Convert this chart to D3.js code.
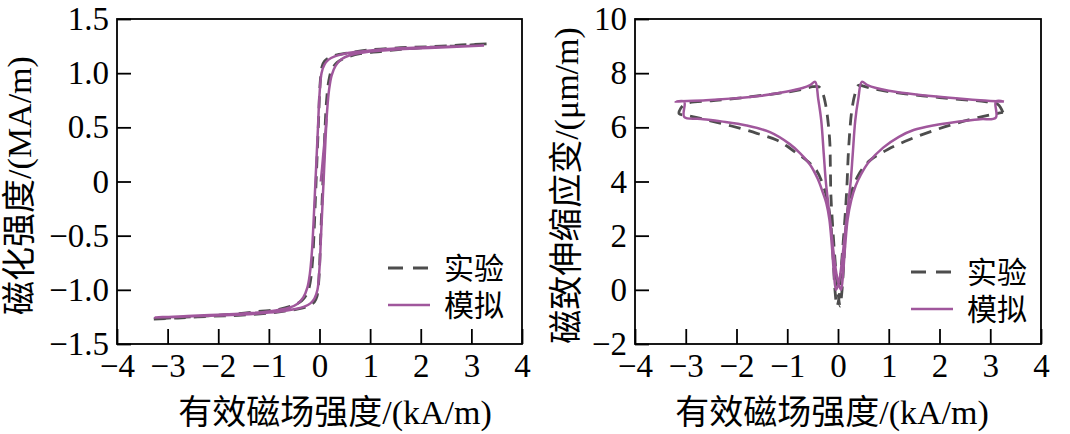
<!DOCTYPE html>
<meta charset="utf-8">
<style>
body { margin: 0; background: #fff; }
svg { font-family: "Liberation Serif", "Noto Sans CJK SC", serif; }
.frame { fill: none; stroke: #000; stroke-width: 1.8; }
.sim { fill: none; stroke: #a0579c; stroke-width: 2.5; }
.exp { fill: none; stroke: #4d4d4d; stroke-width: 2.8; stroke-dasharray: 12,8; }
</style>
<body>
<script src="https://d3js.org/d3.v7.min.js"></script>
<script>

// ---- data ----
var xTicks = [-4, -3, -2, -1, 0, 1, 2, 3, 4];
var magTicks = [-1.5, -1.0, -0.5, 0, 0.5, 1.0, 1.5];
var strainTicks = [-2, 0, 2, 4, 6, 8, 10];
var legendNames = ["实验", "模拟"];

// magnetization loop (H kA/m, M MA/m)
var magSim = [
  [3.25,1.255],[2.5,1.245],[2,1.237],[1.5,1.228],[1,1.21],[0.7,1.195],[0.45,1.175],[0.3,1.155],
  [0.18,1.125],[0.1,1.08],[0.04,1.0],[0.0,0.8],[-0.03,0.5],[-0.06,0.2],[-0.09,-0.1],[-0.12,-0.4],
  [-0.15,-0.65],[-0.19,-0.85],[-0.24,-0.98],[-0.32,-1.07],[-0.44,-1.13],[-0.6,-1.165],[-1,-1.2],
  [-1.5,-1.218],[-2,-1.23],[-2.5,-1.24],[-3.25,-1.255],
  [-2.5,-1.245],[-2,-1.237],[-1.5,-1.228],[-1,-1.21],[-0.7,-1.195],[-0.45,-1.175],[-0.3,-1.155],
  [-0.18,-1.125],[-0.1,-1.08],[-0.04,-1.0],[0.0,-0.8],[0.03,-0.5],[0.06,-0.2],[0.09,0.1],[0.12,0.4],
  [0.15,0.65],[0.19,0.85],[0.24,0.98],[0.32,1.07],[0.44,1.13],[0.6,1.165],[1,1.2],
  [1.5,1.218],[2,1.23],[2.5,1.24],[3.25,1.255]
];
var magSimInitial = [[0.025,0],[0.05,0.12],[0.08,0.28],[0.11,0.42],[0.14,0.58]];
var magExp = [
  [3.3,1.27],[2.8,1.26],[2.2,1.245],[1.6,1.235],[1,1.215],[0.6,1.19],[0.35,1.17],[0.2,1.145],
  [0.1,1.11],[0.05,1.06],[0.02,0.95],[0,0.8],[-0.02,0.55],[-0.05,0.2],[-0.08,-0.15],[-0.11,-0.5],
  [-0.14,-0.75],[-0.18,-0.92],[-0.24,-1.03],[-0.35,-1.1],[-0.5,-1.14],[-0.8,-1.18],[-1.2,-1.2],
  [-1.6,-1.22],[-2.2,-1.24],[-2.8,-1.255],[-3.3,-1.27],
  [-2.8,-1.26],[-2.2,-1.245],[-1.6,-1.235],[-1,-1.215],[-0.6,-1.19],[-0.35,-1.17],[-0.2,-1.145],
  [-0.1,-1.11],[-0.05,-1.06],[-0.02,-0.95],[0,-0.8],[0.02,-0.55],[0.05,-0.2],[0.08,0.15],[0.11,0.5],
  [0.14,0.75],[0.18,0.92],[0.24,1.03],[0.35,1.1],[0.5,1.14],[0.8,1.18],[1.2,1.2],
  [1.6,1.22],[2.2,1.24],[2.8,1.255],[3.3,1.27]
];

// magnetostriction butterfly (H kA/m, strain um/m)
var strainSim = [
  [3.27,6.95],[2.8,7.0],[2.14,7.1],[1.5,7.22],[1.0,7.35],[0.75,7.45],[0.58,7.56],[0.47,7.68],
  [0.4,7.05],[0.34,6.25],[0.29,5.0],[0.25,4.0],[0.21,3.3],[0.15,2.3],[0.08,1.1],[0.02,0.3],[-0.04,0.0],
  [-0.08,0.6],[-0.12,1.6],[-0.17,2.6],[-0.23,3.2],[-0.3,3.6],[-0.4,4.1],[-0.55,4.62],[-0.75,5.05],
  [-0.95,5.38],[-1.34,5.82],[-1.8,6.07],[-2.3,6.22],[-2.7,6.31],[-3.03,6.38],
  [-3.03,6.95],[-3.2,6.95],
  [-2.6,7.0],[-2.13,7.06],[-1.5,7.17],[-1.0,7.32],[-0.7,7.45],[-0.55,7.56],[-0.45,7.68],
  [-0.39,7.05],[-0.33,6.25],[-0.28,5.0],[-0.24,4.0],[-0.2,3.3],[-0.14,2.3],[-0.07,1.1],[0.0,0.3],[0.06,0.0],
  [0.1,0.6],[0.14,1.6],[0.19,2.6],[0.26,3.3],[0.35,3.85],[0.45,4.25],[0.6,4.7],[0.89,5.25],[1.2,5.65],
  [1.49,5.9],[1.9,6.08],[2.32,6.2],[2.8,6.3],[3.11,6.36],
  [3.11,6.95],[3.27,6.95]
];
var strainExp = [
  [3.25,6.55],[3.15,6.85],[2.9,6.95],[2.6,7.0],[2.0,7.1],[1.5,7.2],[1.0,7.32],[0.7,7.42],[0.5,7.52],[0.4,7.55],
  [0.33,7.2],[0.27,6.6],[0.23,5.8],[0.2,4.9],[0.18,4.0],[0.15,3.0],[0.1,1.7],[0.05,0.5],[0.02,-0.3],[-0.02,-0.6],
  [-0.06,0.0],[-0.1,1.3],[-0.15,2.6],[-0.22,3.4],[-0.3,3.9],[-0.42,4.4],[-0.6,4.75],[-0.81,5.04],[-1.0,5.3],
  [-1.21,5.53],[-1.6,5.78],[-2.1,6.05],[-2.6,6.28],[-3.0,6.45],[-3.13,6.5],
  [-3.1,6.7],[-3.0,6.87],
  [-2.5,6.98],[-2.0,7.07],[-1.5,7.18],[-1.0,7.3],[-0.7,7.4],[-0.5,7.5],[-0.38,7.5],
  [-0.3,7.25],[-0.24,6.8],[-0.19,6.1],[-0.16,5.4],[-0.15,4.5],[-0.14,3.5],[-0.1,2.2],[-0.05,0.9],[0.0,-0.1],[0.04,-0.6],
  [0.08,0.0],[0.12,1.2],[0.16,2.4],[0.22,3.3],[0.3,3.8],[0.42,4.3],[0.63,4.78],[0.98,5.18],[1.41,5.55],
  [1.88,5.88],[2.34,6.15],[2.8,6.38],[3.1,6.5],[3.25,6.55]
];

var svg = d3.select("body").append("svg")
  .attr("width", 1070)
  .attr("height", 434);

function panel(o) {
  var x = d3.scaleLinear().domain([-4, 4]).range([o.left, o.right]);
  var y = d3.scaleLinear().domain(o.yDomain).range([o.bottom, o.top]);
  var g = svg.append("g");

  var line = d3.line()
    .x(function (d) { return x(d[0]) })
    .y(function (d) { return y(d[1]) })
    .curve(d3.curveCatmullRom.alpha(0.5));

  // experiment underneath, simulation on top
  g.append("path").attr("class", "exp").attr("d", line(o.exp));
  o.sim.forEach(function (s) {
    g.append("path").attr("class", "sim").attr("d", line(s));
  });

  // axes (ticks point inward)
  var ax = g.append("g")
    .attr("transform", "translate(0," + o.bottom + ")")
    .call(d3.axisBottom(x).tickValues(xTicks).tickSize(-15).tickPadding(10).tickFormat(d3.format("d")));
  var ay = g.append("g")
    .attr("transform", "translate(" + o.left + ",0)")
    .call(d3.axisLeft(y).tickValues(o.yTicks).tickSize(-14).tickPadding(8).tickFormat(o.yFormat));
  [ax, ay].forEach(function (a) {
    a.select(".domain").remove();
    a.attr("font-size", null).attr("font-family", null);
    a.selectAll("line").attr("stroke", "#000").attr("stroke-width", 1.8);
    a.selectAll("text").style("font-size", "33px");
  });

  g.append("rect").attr("class", "frame")
    .attr("x", o.left).attr("y", o.top)
    .attr("width", o.right - o.left).attr("height", o.bottom - o.top);

  g.append("text")
    .attr("x", o.xTitleX).attr("y", 424)
    .attr("text-anchor", "middle")
    .style("font-size", "34px")
    .text("有效磁场强度/(kA/m)");

  g.append("text")
    .attr("transform", "translate(" + o.yTitleX + "," + ((o.top + o.bottom) / 2 + 4) + ") rotate(-90)")
    .attr("text-anchor", "middle")
    .style("font-size", "34px")
    .text(o.yTitle);

  // legend
  var lg = g.append("g");
  lg.append("line").attr("class", "exp").style("stroke-dasharray", "15,10")
    .attr("x1", o.legX).attr("x2", o.legX + 40).attr("y1", o.legY).attr("y2", o.legY);
  lg.append("line").attr("class", "sim")
    .attr("x1", o.legX).attr("x2", o.legX + 42).attr("y1", o.legY + 37).attr("y2", o.legY + 37);
  legendNames.forEach(function (n, i) {
    lg.append("text")
      .attr("x", o.legX + 56).attr("y", o.legY + i * 37)
      .attr("dy", "0.36em")
      .style("font-size", "30px")
      .text(n);
  });
}

panel({
  left: 117, right: 522, top: 19, bottom: 344,
  yDomain: [-1.5, 1.5], yTicks: magTicks,
  yFormat: function (d) { return d === 0 ? "0" : d3.format(".1f")(d) },
  sim: [magSim, magSimInitial], exp: magExp,
  xTitleX: 335, yTitleX: 31, yTitle: "磁化强度/(MA/m)",
  legX: 388, legY: 268
});

panel({
  left: 635, right: 1041, top: 19, bottom: 344,
  yDomain: [-2, 10], yTicks: strainTicks,
  yFormat: d3.format("d"),
  sim: [strainSim], exp: strainExp,
  xTitleX: 832, yTitleX: 578, yTitle: "磁致伸缩应变/(μm/m)",
  legX: 911, legY: 272
});

</script>
